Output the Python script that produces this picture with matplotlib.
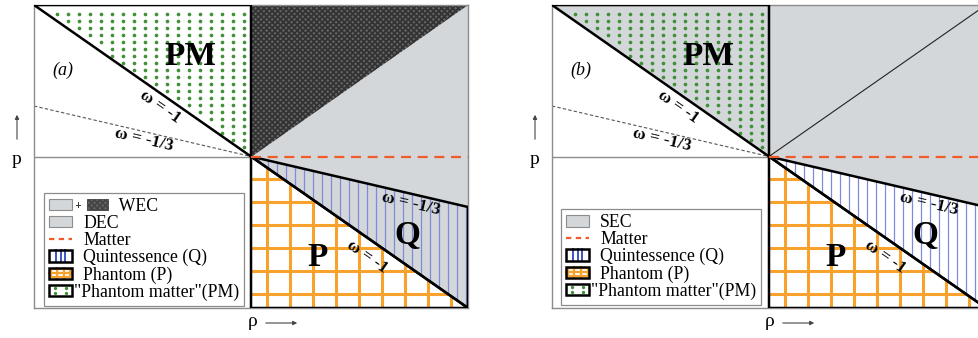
import numpy as np
import matplotlib
matplotlib.use('Agg')
import matplotlib.pyplot as plt
from matplotlib.patches import Polygon, Rectangle, FancyArrowPatch
from matplotlib.lines import Line2D
from matplotlib.legend_handler import HandlerBase

# ---------------- data ----------------
omega_values = [-1.0, -1.0 / 3.0]          # p = omega * rho
omega_labels = ['ω = -1', 'ω = -1/3']
matter_omega = 0.0
panel_tags = ['(a)', '(b)']
region_labels = ['PM', 'P', 'Q']
legend_a = ['WEC', 'DEC', 'Matter', 'Quintessence (Q)', 'Phantom (P)', '"Phantom matter"(PM)']
legend_b = ['SEC', 'Matter', 'Quintessence (Q)', 'Phantom (P)', '"Phantom matter"(PM)']
axis_labels = ['p', 'ρ']

# ---------------- style ----------------
plt.rcParams['font.family'] = ['Liberation Serif', 'DejaVu Serif']
plt.rcParams['hatch.linewidth'] = 1.3
GRAY = '#d3d7da'
DARK = '#666666'
ORANGE = '#f8a22e'
BLUE = '#7f8ad8'
LBLUE = '#3f52c0'
GREEN = '#3f9036'
MATTER = '#ef5b2b'
FRAME = '#8c8c8c'
LFS = 12.8

W = 979
H = 338
fig = plt.figure(figsize=(W / 100, H / 100), dpi=100)


def px_ax(left, top, width, height):
    return fig.add_axes([left / W, 1 - (top + height) / H, width / W, height / H])


class WECKey:
    pass


class PatternKey:
    def __init__(self, kind):
        self.kind = kind


class WECHandler(HandlerBase):
    def create_artists(self, legend, orig_handle, xdescent, ydescent, width, height, fontsize, trans):
        x0, y0 = -xdescent, -ydescent
        r1 = Rectangle((x0, y0), width, height, fc=GRAY, ec=FRAME, lw=0.8, transform=trans)
        cx, cy = x0 + width + 4.4, y0 + height / 2
        p1 = Line2D([cx - 1.6, cx + 1.6], [cy, cy], color='#333333', lw=0.7, transform=trans)
        p2 = Line2D([cx, cx], [cy - 1.6, cy + 1.6], color='#333333', lw=0.7, transform=trans)
        r2 = Rectangle((x0 + width + 10.8, y0), 15.0, height, fc=DARK,
                       ec='#444444', lw=0.6, hatch='xxxxxx', transform=trans)
        return [r1, p1, p2, r2]


class PatternHandler(HandlerBase):
    def create_artists(self, legend, orig_handle, xdescent, ydescent, width, height, fontsize, trans):
        x0, y0 = -xdescent, -ydescent
        arts = [Rectangle((x0, y0), width, height, fc='white', ec='none', transform=trans)]
        k = orig_handle.kind
        if k == 'Q':
            for f in (0.3, 0.5, 0.7):
                arts.append(Line2D([x0 + f * width] * 2, [y0, y0 + height], color=LBLUE, lw=1.4,
                                   transform=trans))
        elif k == 'P':
            for f in (0.36, 0.64):
                arts.append(Line2D([x0 + f * width] * 2, [y0, y0 + height], color=ORANGE, lw=1.6,
                                   transform=trans))
            arts.append(Line2D([x0, x0 + width], [y0 + 0.5 * height] * 2, color=ORANGE, lw=1.6,
                               transform=trans))
            arts.append(Rectangle((x0 + 1.2, y0 + 1.2), width - 2.4, height - 2.4, fill=False, ec=ORANGE,
                                  lw=1.6, transform=trans))
        elif k == 'PM':
            for fx in (0.27, 0.73):
                for fy in (0.3, 0.7):
                    arts.append(Line2D([x0 + fx * width], [y0 + fy * height], marker='o', ms=2.4, mew=0,
                                       color=GREEN, ls='none', transform=trans))
        arts.append(Rectangle((x0, y0), width, height, fill=False, ec='black', lw=1.8, transform=trans))
        return arts


def draw_panel(ax, kind):
    w1, w3 = omega_values
    ax.set_xlim(-1, 1)
    ax.set_ylim(-1, 1)
    ax.set_xticks([])
    ax.set_yticks([])
    for s in ax.spines.values():
        s.set_color(FRAME)
        s.set_linewidth(1.0)

    if kind == 'a':
        ax.add_patch(Polygon([(0, 0), (1, 1), (1, w1)], fc=GRAY, ec='none', zorder=1))
        ax.add_patch(Polygon([(0, 0), (0, 1), (1, 1)], fc=DARK, ec='#333333', lw=0, hatch='xxxxxx', zorder=1))
    else:
        ax.add_patch(Polygon([(0, 0), (0, 1), (1, 1), (1, w3)], fc=GRAY, ec='none', zorder=1))
        ax.add_patch(Polygon([(-1, 1), (0, 1), (0, 0)], fc=GRAY, ec='none', zorder=1))
        ax.plot([0, 1], [0, 1], color='#222222', lw=0.8, zorder=2)

    # Quintessence: vertical blue lines between omega=-1/3 and omega=-1
    xs = np.arange(0.035, 1.0, 0.0415)
    ax.vlines(xs, w1 * xs, w3 * xs, color=BLUE, lw=0.9, zorder=2)

    # Phantom: orange grid below omega=-1
    gx = np.arange(0.075, 1.0, 0.106)
    ax.vlines(gx, -1, w1 * gx, color=ORANGE, lw=2.2, zorder=2)
    gy = np.arange(-0.148, -1.0, -0.152)
    ax.hlines(gy, 0, gy / w1, color=ORANGE, lw=2.2, zorder=2)

    # Phantom matter: green dots above omega=-1, rho<0
    X, Y = np.meshgrid(np.arange(-0.894, 0, 0.0507), np.arange(0.94, 0, -0.0462))
    m = Y > w1 * X + 0.02
    ax.scatter(X[m], Y[m], s=7, color=GREEN, lw=0, zorder=3)

    # black outlines of regions
    for poly in ([(-1, 1), (0, 1), (0, 0)], [(0, 0), (0, -1), (1, -1)], [(0, 0), (1, w1), (1, w3)]):
        ax.add_patch(Polygon(poly, fill=False, ec='black', lw=1.8, joinstyle='miter', zorder=4))

    ax.plot([-1, 0], [0, 0], color=FRAME, lw=1.0, zorder=2)
    ax.plot([-1, 0], [-w3, 0], color='#555555', lw=0.8, ls=(0, (3, 2)), zorder=2)
    ax.plot([0, 1], [matter_omega * 0, matter_omega * 1], color=MATTER, lw=1.6, ls=(0, (4.5, 3)), zorder=5)

    # region labels
    ax.text(-0.28, 0.66, region_labels[0], fontsize=24, fontweight='bold', ha='center', va='center', zorder=6)
    ax.text(0.305, -0.665, region_labels[1], fontsize=24, fontweight='bold', ha='center', va='center', zorder=6)
    ax.text(0.722, -0.52, region_labels[2], fontsize=24, fontweight='bold', ha='center', va='center', zorder=6)
    ax.text(-0.868, 0.571, panel_tags[0 if kind == 'a' else 1], fontsize=13, style='italic',
            ha='center', va='center', zorder=6)

    # omega labels along the lines
    ang1 = np.degrees(np.arctan(w1))
    ang3 = np.degrees(np.arctan(w3))
    kw = dict(fontsize=12.5, fontweight='bold', ha='center', va='center', transform_rotates_text=True,
              rotation_mode='anchor', zorder=6)
    ax.text(-0.42, 0.325, omega_labels[0], rotation=ang1, **kw)
    ax.text(-0.495, 0.11, omega_labels[1], rotation=ang3, **kw)
    ax.text(0.735, -0.31, omega_labels[1], rotation=ang3, **kw)
    ax.text(0.535, -0.66, omega_labels[0], rotation=ang1, **kw)

    # legend
    gray_patch = Rectangle((0, 0), 1, 1, fc=GRAY, ec=FRAME, lw=0.8)
    matter_line = Line2D([], [], color=MATTER, lw=1.6, ls=(0, (2.4, 2.0)))
    q, pp, pm = PatternKey('Q'), PatternKey('P'), PatternKey('PM')
    if kind == 'a':
        handles = [WECKey(), gray_patch, matter_line, q, pp, pm]
        labels = [' ' * 8 + legend_a[0]] + legend_a[1:]
        anchor = (0.023, 0.007)
    else:
        handles = [gray_patch, matter_line, q, pp, pm]
        labels = legend_b
        anchor = (0.021, 0.01)
    leg = ax.legend(handles, labels, loc='lower left', bbox_to_anchor=anchor, borderaxespad=0,
                    fontsize=LFS, handlelength=1.3, handleheight=0.62, handletextpad=0.62,
                    labelspacing=0.0, borderpad=0.28, fancybox=False, framealpha=1,
                    edgecolor=FRAME,
                    handler_map={WECKey: WECHandler(), PatternKey: PatternHandler()})
    leg.set_zorder(7)
    leg.get_frame().set_linewidth(0.9)
    # the last entry's text sits right next to its key in the original
    try:
        cols = leg._legend_handle_box.get_children()
        last_item = cols[-1].get_children()[-1]
        last_item.sep = 1.5
    except Exception:
        pass


ax_a = px_ax(34, 5, 434, 303)
ax_b = px_ax(552, 5, 434, 303)
draw_panel(ax_a, 'a')
draw_panel(ax_b, 'b')


def fig_text(x, y, s, **kw):
    fig.text(x / W, 1 - y / H, s, ha='center', va='center', fontsize=14, **kw)


def fig_arrow(x0, y0, x1, y1):
    fig.add_artist(FancyArrowPatch((x0 / W, 1 - y0 / H), (x1 / W, 1 - y1 / H), transform=fig.transFigure,
                                   arrowstyle='-|>', mutation_scale=6, lw=0.8, color='#444444'))


for ox in (0, 518):
    fig_text(17 + ox, 160, axis_labels[0])
    fig_arrow(17 + ox, 142, 17 + ox, 112)
for ox in (251, 768):
    fig_text(ox + 2, 321, axis_labels[1])
    fig_arrow(ox + 12, 323, ox + 49, 323)

fig.savefig('out.png', dpi=100)
